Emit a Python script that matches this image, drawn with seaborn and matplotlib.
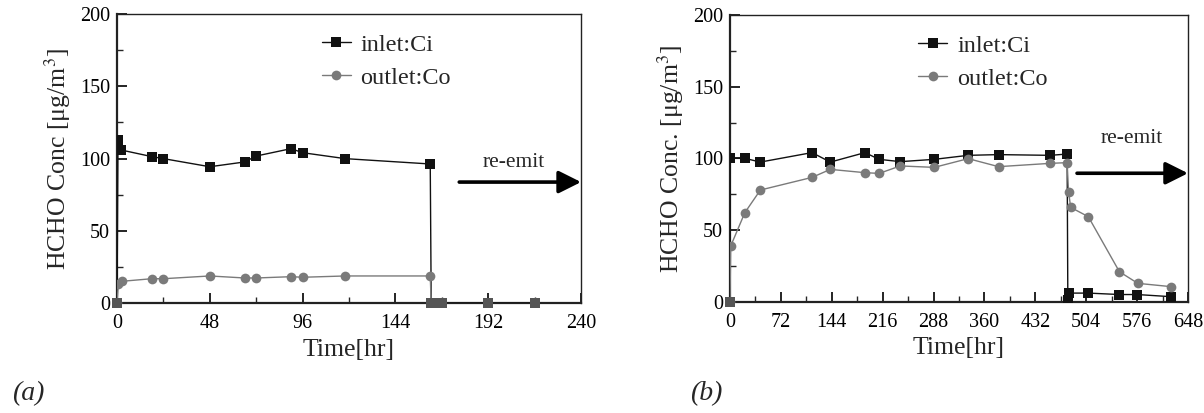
import numpy as np
import pandas as pd
import matplotlib
matplotlib.use("Agg")
import matplotlib.pyplot as plt
from matplotlib.ticker import MultipleLocator
import seaborn as sns

# ---------------- data ----------------
a_inlet_t = [0, 0.5, 2, 18, 24, 48, 66, 72, 90, 96, 118, 162, 162.5, 165, 168, 192, 216]
a_inlet_v = [0, 113, 106, 101.4, 100, 94.4, 97.7, 101.8, 106.9, 104.1, 100, 96.3, 0, 0, 0, 0, 0]
a_outlet_t = [0, 0.7, 2.4, 18, 24, 48, 66, 72, 90, 96, 118, 162, 162.5]
a_outlet_v = [0, 13.6, 15.2, 17, 17, 18.9, 17.5, 17.5, 18.4, 18, 18.9, 18.9, 0]

b_inlet_t = [0, 0, 21, 43, 116, 142, 191, 211, 241, 289, 337, 380, 453, 477, 478, 480, 507, 551, 576, 624]
b_inlet_v = [0, 100, 100, 97.4, 104, 97.4, 104, 99.3, 97.7, 99.3, 102.1, 102.6, 102.1, 103, 1.5, 6, 6, 5, 5, 3.5]
b_outlet_t = [0, 1, 21, 43, 116, 142, 191, 211, 241, 289, 337, 380, 453, 477, 479, 482, 507, 551, 577, 624]
b_outlet_v = [0, 38.8, 62.1, 77.9, 86.7, 92.3, 90, 89.5, 94.7, 93.7, 99.8, 94.2, 96.5, 97, 76.7, 65.8, 59.3, 20.9, 12.8, 10.5]

x_ticks_a = [0, 48, 96, 144, 192, 240]
x_ticks_b = [0, 72, 144, 216, 288, 360, 432, 504, 576, 648]
y_ticks = [0, 50, 100, 150, 200]

# ---------------- style ----------------
sns.set_theme(style="ticks")
plt.rcParams["font.family"] = ["Liberation Serif", "DejaVu Serif"]
plt.rcParams["mathtext.fontset"] = "stix"

INLET_C = "#111111"
OUTLET_C = "#7a7a7a"

fig = plt.figure(figsize=(12.04, 4.13), dpi=100)
ax_a = fig.add_axes([0.0972, 0.2656, 0.3854, 0.7006])
ax_b = fig.add_axes([0.6063, 0.2695, 0.3804, 0.6942])


def draw(ax, it, iv, ot, ov, xmax, xt, xminor, ylabel, arrow, text_xy, leg_x):
    d_in = pd.DataFrame({"t": it, "v": iv})
    d_out = pd.DataFrame({"t": ot, "v": ov})
    sns.lineplot(data=d_in, x="t", y="v", ax=ax, sort=False, estimator=None,
                 color=INLET_C, lw=1.0, marker="s", markersize=7.5,
                 markeredgewidth=0, label="inlet:Ci", zorder=3)
    sns.lineplot(data=d_out, x="t", y="v", ax=ax, sort=False, estimator=None,
                 color=OUTLET_C, lw=1.0, marker="o", markersize=7,
                 markeredgewidth=0, label="outlet:Co", zorder=4)
    z = d_in[d_in["v"] == 0]
    ax.scatter(z["t"], z["v"], marker="s", s=55, color="#555555",
               linewidths=0, zorder=5, clip_on=False)

    ax.set_xlim(0, xmax)
    ax.set_ylim(0, 200)
    ax.set_xticks(xt)
    ax.set_yticks(y_ticks)
    ax.xaxis.set_minor_locator(MultipleLocator(xminor))
    ax.yaxis.set_minor_locator(MultipleLocator(25))
    ax.tick_params(which="major", direction="in", length=7, width=1.2,
                   labelsize=14.5, colors="black")
    ax.tick_params(axis="x", pad=8)
    ax.tick_params(axis="y", pad=5)
    ax.tick_params(which="minor", direction="in", length=4, width=1.0)
    ax.tick_params(top=False, right=False, which="both")
    for s in ax.spines.values():
        s.set_visible(True)
        s.set_linewidth(1.6)
        s.set_color("#222222")
    ax.spines["top"].set_linewidth(1.0)
    ax.spines["right"].set_linewidth(1.0)
    ax.set_xlabel("Time[hr]", fontsize=18.5, labelpad=4)
    ax.set_ylabel(ylabel, fontsize=18.5, labelpad=5)

    ax.legend(loc="upper left", bbox_to_anchor=(leg_x, 0.965),
              frameon=False, fontsize=17.5, handlelength=1.2,
              handletextpad=0.4, labelspacing=0.45, borderaxespad=0)

    ax.annotate("", xy=(arrow[2], arrow[1]), xytext=(arrow[0], arrow[1]),
                arrowprops=dict(arrowstyle="-|>", color="black", lw=2.6,
                                mutation_scale=34, shrinkA=0, shrinkB=0),
                annotation_clip=False)
    ax.text(text_xy[0], text_xy[1], "re-emit", fontsize=15.5, ha="center",
            va="center")


draw(ax_a, a_inlet_t, a_inlet_v, a_outlet_t, a_outlet_v, 240, x_ticks_a, 24,
     r"HCHO Conc [$\mathregular{\mu}$g/m$^3$]", (177, 83.8, 240), (205, 97), 0.42)
draw(ax_b, b_inlet_t, b_inlet_v, b_outlet_t, b_outlet_v, 648, x_ticks_b, 36,
     r"HCHO Conc. [$\mathregular{\mu}$g/m$^3$]", (491, 89.6, 648), (569, 114), 0.39)

fig.text(0.01, 0.03, "(a)", fontsize=20, style="italic")
fig.text(0.573, 0.03, "(b)", fontsize=20, style="italic")

fig.savefig("out.png", dpi=100)
